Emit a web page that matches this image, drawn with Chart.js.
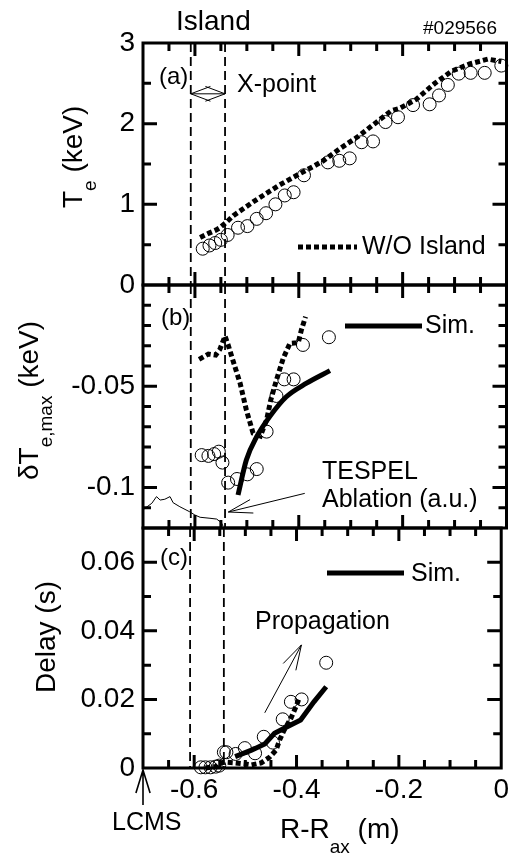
<!DOCTYPE html>
<html>
<head>
<meta charset="utf-8">
<script src="https://cdn.jsdelivr.net/npm/chart.js@4.4.1/dist/chart.umd.min.js"></script>
<style>
  body { margin: 0; background: #fff; }
  #wrap { position: relative; width: 514px; height: 854px; }
  #wrap canvas { position: absolute; left: 0; top: 0; }
</style>
</head>
<body>
<div id="wrap">
  <canvas id="panelA" width="514" height="854"></canvas>
  <canvas id="panelB" width="514" height="854"></canvas>
  <canvas id="panelC" width="514" height="854"></canvas>
  <canvas id="frames" width="514" height="854"></canvas>
</div>
<script>
// ---- data (R - Rax in m) ----
// (a) Te profile
const teR   = [-0.585, -0.572, -0.561, -0.550, -0.537, -0.517, -0.499, -0.481, -0.463, -0.445, -0.427, -0.410, -0.390, -0.344,
               -0.322, -0.302, -0.279, -0.257, -0.233, -0.209, -0.180, -0.148, -0.130, -0.113, -0.092, -0.069, -0.042, -0.010];
const teObs = [0.45, 0.49, 0.52, 0.56, 0.62, 0.71, 0.73, 0.82, 0.89, 1.00, 1.11, 1.15, 1.36, 1.52,
               1.54, 1.57, 1.77, 1.78, 2.02, 2.08, 2.23, 2.24, 2.35, 2.48, 2.62, 2.63, 2.63, 2.72];
const teWoR = [-0.590, -0.574, -0.560, -0.552, -0.539, -0.526, -0.488, -0.437, -0.398, -0.372, -0.353, -0.321, -0.286,
               -0.254, -0.222, -0.206, -0.174, -0.138, -0.106, -0.071, -0.036, -0.010];
const teWo  = [0.59, 0.64, 0.68, 0.71, 0.78, 0.86, 1.03, 1.24, 1.38, 1.47, 1.54, 1.69, 1.84,
               2.00, 2.16, 2.19, 2.30, 2.50, 2.65, 2.74, 2.80, 2.77];

// (b) dTe,max
const dtR    = [-0.587, -0.574, -0.563, -0.554, -0.547, -0.536, -0.519, -0.499, -0.481, -0.462, -0.443, -0.428, -0.410, -0.392, -0.342];
const dtObs  = [-0.0840, -0.0844, -0.0835, -0.0823, -0.0877, -0.0976, -0.0958, -0.0935, -0.0909, -0.0724, -0.0548, -0.0466, -0.0466, -0.0296, -0.0258];
const dtWoR  = [-0.592, -0.574, -0.560, -0.552, -0.542, -0.536, -0.526, -0.513, -0.501, -0.488, -0.474, -0.462, -0.454, -0.443,
                -0.430, -0.417, -0.401, -0.395, -0.387];
const dtWo   = [-0.0367, -0.0341, -0.0346, -0.0318, -0.0252, -0.0296, -0.0379, -0.0485, -0.0617, -0.0732, -0.0746, -0.0667, -0.0568, -0.0469,
                -0.0362, -0.0288, -0.0285, -0.0222, -0.0157];
const dtSimR = [-0.517, -0.501, -0.481, -0.456, -0.424, -0.385, -0.340];
const dtSim  = [-0.1037, -0.0864, -0.0749, -0.0650, -0.0552, -0.0485, -0.0423];
const ablR   = [-0.699, -0.683, -0.674, -0.667, -0.658, -0.648, -0.642, -0.629, -0.610, -0.600, -0.590, -0.571, -0.558, -0.549, -0.546];
const abl    = [-0.1108, -0.1078, -0.1045, -0.1062, -0.1058, -0.1045, -0.1075, -0.1095, -0.1120, -0.1136, -0.1147, -0.1152, -0.1156, -0.1174, -0.1190];

// (c) delay
const dlR    = [-0.587, -0.578, -0.568, -0.558, -0.551, -0.542, -0.537, -0.519, -0.501, -0.481, -0.464, -0.446, -0.427, -0.411, -0.390, -0.342];
const dlObs  = [0.0002, 0.0002, 0.0002, 0.0004, 0.0007, 0.0046, 0.0046, 0.0041, 0.0058, 0.0043, 0.0091, 0.0074, 0.0142, 0.0193, 0.0200, 0.0307];
const dlWoR  = [-0.578, -0.558, -0.552, -0.539, -0.520, -0.501, -0.488, -0.469, -0.453, -0.440, -0.433, -0.424, -0.411, -0.401, -0.395];
const dlWo   = [0.0000, 0.0004, 0.0014, 0.0017, 0.0015, 0.0012, 0.0009, 0.0015, 0.0031, 0.0052, 0.0082, 0.0111, 0.0145, 0.0179, 0.0203];
const dlSimR = [-0.520, -0.488, -0.462, -0.443, -0.424, -0.392, -0.366, -0.342];
const dlSim  = [0.0033, 0.0052, 0.0070, 0.0101, 0.0116, 0.0140, 0.0193, 0.0237];

const islandEdges = [-0.608, -0.542];

// tick labels
const xTickLabels  = [-0.6, -0.4, -0.2, 0];
const teTickLabels = [0, 1, 2, 3];
const dtTickLabels = [-0.05, -0.1];
const dlTickLabels = [0, 0.02, 0.04, 0.06];

const X_MIN = -0.7, X_MAX = 0;
const FONT = "'Liberation Sans', Arial, sans-serif";

function pts(xs, ys) { return xs.map((x, i) => ({ x: x, y: ys[i] })); }

function labelFrom(list) {
    return function(v) {
        const hit = list.find(t => Math.abs(t - v) < 1e-6);
        return hit === undefined ? '' : String(hit);
    };
}

function circles(xs, ys) {
    return {
        data: pts(xs, ys), showLine: false, pointRadius: 6.5, pointHoverRadius: 6.5,
        pointBorderWidth: 1, pointBorderColor: '#000', pointBackgroundColor: 'rgba(0,0,0,0)',
        clip: false, order: 0
    };
}
function dotted(xs, ys) {
    return {
        data: pts(xs, ys), showLine: true, pointRadius: 0, borderColor: '#000',
        borderWidth: 5, borderDash: [5, 3], borderCapStyle: 'butt', clip: false, order: 1
    };
}
function solid(xs, ys, width, smooth) {
    return {
        data: pts(xs, ys), showLine: true, pointRadius: 0, borderColor: '#000',
        borderWidth: width, tension: smooth ? 0.4 : 0,
        cubicInterpolationMode: smooth ? 'monotone' : 'default', clip: false, order: 1
    };
}

function eachTick(min, max, step, majorStep, fn) {
    const k0 = Math.ceil(min / step - 1e-6), k1 = Math.floor(max / step + 1e-6);
    for (let k = k0; k <= k1; k++) {
        const v = k * step, r = v / majorStep;
        fn(v, Math.abs(r - Math.round(r)) < 1e-6);
    }
}

function drawIsland(chart) {
    const { ctx, chartArea: a, scales } = chart;
    ctx.save();
    ctx.strokeStyle = '#000';
    ctx.lineWidth = 1.8;
    ctx.setLineDash([9, 5]);
    islandEdges.forEach(r => {
        const px = scales.x.getPixelForValue(r);
        ctx.beginPath();
        ctx.moveTo(px, a.top);
        ctx.lineTo(px, a.bottom);
        ctx.stroke();
    });
    ctx.restore();
}

// box round one plot with inward ticks on all four sides, on the overlay canvas
function drawFrame(ctx, chart, yCfg) {
    const a = chart.chartArea, sx = chart.scales.x, sy = chart.scales.y;
    ctx.save();
    ctx.strokeStyle = '#000';
    ctx.lineWidth = 3;
    ctx.setLineDash([]);
    ctx.beginPath();
    ctx.rect(a.left, a.top, a.right - a.left, a.bottom - a.top);
    eachTick(X_MIN, X_MAX, 0.05, 0.2, (v, major) => {
        const px = sx.getPixelForValue(v), len = major ? 13 : 8;
        ctx.moveTo(px, a.top); ctx.lineTo(px, a.top + len);
        ctx.moveTo(px, a.bottom); ctx.lineTo(px, a.bottom - len);
    });
    eachTick(yCfg.min, yCfg.max, yCfg.minor, yCfg.major, (v, major) => {
        const py = sy.getPixelForValue(v), len = major ? 14 : 8;
        ctx.moveTo(a.left, py); ctx.lineTo(a.left + len, py);
        ctx.moveTo(a.right, py); ctx.lineTo(a.right - len, py);
    });
    ctx.stroke();
    ctx.restore();
}

function text(ctx, s, x, y, size, align) {
    ctx.save();
    ctx.font = size + 'px ' + FONT;
    ctx.textAlign = align || 'left';
    ctx.textBaseline = 'middle';
    ctx.fillStyle = '#000';
    ctx.fillText(s, x, y);
    ctx.restore();
}

// parts: [string, size, baseline shift]
function richText(ctx, parts, x, y, vertical) {
    ctx.save();
    ctx.translate(x, y);
    if (vertical) ctx.rotate(-Math.PI / 2);
    ctx.textAlign = 'left';
    ctx.textBaseline = 'alphabetic';
    ctx.fillStyle = '#000';
    let cx = 0;
    parts.forEach(p => {
        ctx.font = p[1] + 'px ' + FONT;
        ctx.fillText(p[0], cx, p[2]);
        cx += ctx.measureText(p[0]).width;
    });
    ctx.restore();
}

function arrowHead(ctx, x1, y1, x2, y2, len, ang) {
    const th = Math.atan2(y1 - y2, x1 - x2);
    ctx.moveTo(x2 + len * Math.cos(th + ang), y2 + len * Math.sin(th + ang));
    ctx.lineTo(x2, y2);
    ctx.lineTo(x2 + len * Math.cos(th - ang), y2 + len * Math.sin(th - ang));
}
function arrow(ctx, x1, y1, x2, y2, len, ang, width) {
    ctx.save();
    ctx.setLineDash([]);
    ctx.strokeStyle = '#000';
    ctx.lineWidth = width || 1;
    ctx.beginPath();
    ctx.moveTo(x1, y1);
    ctx.lineTo(x2, y2);
    arrowHead(ctx, x1, y1, x2, y2, len, ang);
    ctx.stroke();
    ctx.restore();
}
function legendLine(ctx, x1, x2, y, dash) {
    ctx.save();
    ctx.strokeStyle = '#000';
    ctx.lineWidth = 5;
    ctx.setLineDash(dash);
    ctx.beginPath();
    ctx.moveTo(x1, y);
    ctx.lineTo(x2, y);
    ctx.stroke();
    ctx.restore();
}

function notesA(chart) {
    const { ctx, scales } = chart;
    text(ctx, 'Island', 176, 22, 28);
    text(ctx, '#029566', 497, 29, 19, 'right');
    text(ctx, '(a)', 159, 77, 24);
    text(ctx, 'X-point', 237, 85, 25);
    const xl = scales.x.getPixelForValue(islandEdges[0]);
    const xr = scales.x.getPixelForValue(islandEdges[1]);
    const ya = scales.y.getPixelForValue(2.37);
    ctx.save();
    ctx.strokeStyle = '#000';
    ctx.lineWidth = 1;
    ctx.beginPath();
    ctx.moveTo(xl, ya); ctx.lineTo(xr, ya);
    arrowHead(ctx, xr, ya, xl, ya, 21, 0.36);
    arrowHead(ctx, xl, ya, xr, ya, 21, 0.36);
    ctx.stroke();
    ctx.restore();
    legendLine(ctx, 298, 357, 247, [5, 3]);
    text(ctx, 'W/O Island', 362, 247, 25);
    richText(ctx, [['T', 28, 0], ['e', 19, 14], [' (keV)', 28, 0]], 82, 208, true);
}

function notesB(chart) {
    const { ctx, scales } = chart;
    text(ctx, '(b)', 161, 318, 24);
    legendLine(ctx, 345, 422, 326, []);
    text(ctx, 'Sim.', 425, 326, 25);
    text(ctx, 'TESPEL', 322, 472, 25);
    text(ctx, 'Ablation (a.u.)', 322, 500, 25);
    arrow(ctx, scales.x.getPixelForValue(-0.3885), scales.y.getPixelForValue(-0.1029),
               scales.x.getPixelForValue(-0.5356), scales.y.getPixelForValue(-0.1121), 25, 0.28, 1);
    richText(ctx, [['\u03B4T', 28, 0], ['e,max', 19, 14], [' (keV)', 28, 0]], 38, 480, true);
}

function notesC(chart) {
    const { ctx, scales } = chart;
    text(ctx, '(c)', 160, 558, 24);
    legendLine(ctx, 327, 404, 573, []);
    text(ctx, 'Sim.', 411, 574, 25);
    text(ctx, 'Propagation', 255, 622, 25);
    arrow(ctx, scales.x.getPixelForValue(-0.4621), scales.y.getPixelForValue(0.0161),
               scales.x.getPixelForValue(-0.3904), scales.y.getPixelForValue(0.0359), 26, 0.28, 1);
    richText(ctx, [['Delay (s)', 28, 0]], 55, 693, true);
    // LCMS marker under the left edge
    const xl = scales.x.getPixelForValue(X_MIN);
    arrow(ctx, xl, 805, xl, 770, 24, 0.3, 1.6);
    text(ctx, 'LCMS', 112, 823, 25);
    richText(ctx, [['R-R', 28, 0], ['ax', 19, 15], [' (m)', 28, 0]], 280, 838, false);
}

function makePanel(id, datasets, yCfg, pad, showX, notes) {
    const tickFont = { family: FONT, size: 28 };
    const decor = {
        id: 'decor' + id,
        beforeDatasetsDraw(chart) { drawIsland(chart); },
        afterDraw(chart) { notes(chart); }
    };
    return new Chart(document.getElementById(id).getContext('2d'), {
        type: 'scatter',
        data: { datasets: datasets },
        options: {
            responsive: false,
            animation: false,
            events: [],
            layout: { padding: pad },
            plugins: { legend: { display: false }, tooltip: { enabled: false } },
            scales: {
                x: {
                    type: 'linear', min: X_MIN, max: X_MAX, display: showX,
                    grid: { display: false, drawTicks: false },
                    border: { display: false },
                    ticks: {
                        stepSize: 0.05, autoSkip: false, maxRotation: 0, padding: 5,
                        font: tickFont, color: '#000', callback: labelFrom(xTickLabels)
                    },
                    afterFit(s) { s.height = showX ? 40 : 0; }
                },
                y: {
                    type: 'linear', min: yCfg.min, max: yCfg.max,
                    grid: { display: false, drawTicks: false },
                    border: { display: false },
                    ticks: {
                        stepSize: yCfg.minor, autoSkip: false, padding: 8,
                        font: tickFont, color: '#000', callback: labelFrom(yCfg.labels)
                    },
                    afterFit(s) { s.width = 143; }
                }
            }
        },
        plugins: [decor]
    });
}

document.addEventListener('DOMContentLoaded', function() {
    const cfgA = { min: 0, max: 3, minor: 0.5, major: 1, labels: teTickLabels };
    const cfgB = { min: -0.12, max: 0, minor: 0.01, major: 0.05, labels: dtTickLabels };
    const cfgC = { min: 0, max: 0.07, minor: 0.01, major: 0.02, labels: dlTickLabels };

    const chartA = makePanel('panelA',
        [circles(teR, teObs), dotted(teWoR, teWo)],
        cfgA, { top: 43, bottom: 569, left: 0, right: 7 }, false, notesA);

    const chartB = makePanel('panelB',
        [circles(dtR, dtObs), dotted(dtWoR, dtWo), solid(dtSimR, dtSim, 5, true), solid(ablR, abl, 1, false)],
        cfgB, { top: 285, bottom: 326, left: 0, right: 7 }, false, notesB);

    const chartC = makePanel('panelC',
        [circles(dlR, dlObs), dotted(dlWoR, dlWo), solid(dlSimR, dlSim, 5, false)],
        cfgC, { top: 528, bottom: 46, left: 0, right: 7 }, true, notesC);

    // frames and ticks on a canvas above the three charts
    const fctx = document.getElementById('frames').getContext('2d');
    drawFrame(fctx, chartA, cfgA);
    drawFrame(fctx, chartB, cfgB);
    drawFrame(fctx, chartC, cfgC);
});
</script>
</body>
</html>
